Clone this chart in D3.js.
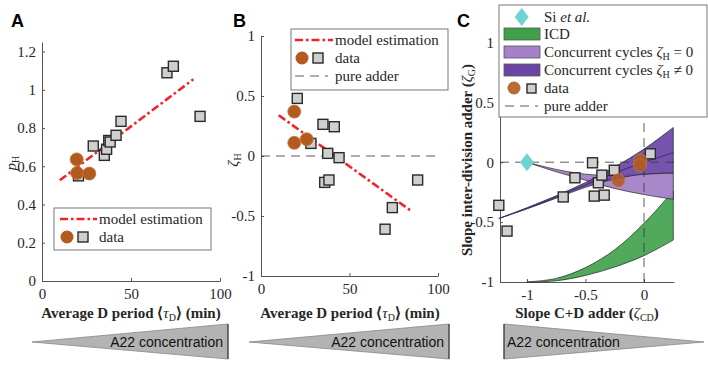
<!DOCTYPE html>
<html>
<head>
<meta charset="utf-8">
<script src="https://cdn.jsdelivr.net/npm/d3@7"></script>
<style>
  body { margin: 0; background: #fff; }
</style>
</head>
<body>
<div id="chart"></div>
<script>
// ---- data ----
// Panel A
const tauA_sq = [20.5, 28.8, 35, 36.3, 37.5, 38.3, 41.6, 44.4, 70.2, 73.8, 88.8];
const pH_sq = [0.55, 0.706, 0.657, 0.689, 0.735, 0.727, 0.762, 0.835, 1.089, 1.123, 0.861];
const tauA_circ = [19.5, 19.7, 26.6];
const pH_circ = [0.636, 0.565, 0.562];
const modelA_x = [10, 85];
const modelA_y = [0.527, 1.055];

// Panel B
const tauB_sq = [20.5, 28.2, 35, 36, 37.7, 38.4, 41.4, 44.1, 70.1, 74.2, 88.5];
const zetaH_sq = [0.48, 0.105, 0.264, -0.22, 0.022, -0.2, 0.244, -0.014, -0.61, -0.43, -0.2];
const tauB_circ = [18.8, 18.8, 25.8];
const zetaH_circ = [0.37, 0.11, 0.14];
const modelB_x = [10, 85];
const modelB_y = [0.34, -0.46];

// Panel C
const zCD_sq = [-1.24, -1.17, -0.69, -0.59, -0.44, -0.425, -0.39, -0.36, -0.34, -0.254, 0.054];
const zG_sq = [-0.36, -0.575, -0.29, -0.13, -0.005, -0.283, -0.172, -0.108, -0.275, -0.067, 0.07];
const zCD_circ = [-0.22, -0.03, -0.035];
const zG_circ = [-0.15, 0.014, -0.025];
const si_x = [-1];
const si_y = [0];

const icd_x = [-1, -0.75, -0.5, -0.25, 0, 0.25];
const icd_top = [-1, -0.97, -0.88, -0.73, -0.51, -0.24];
const icd_bot = [-1, -0.99, -0.945, -0.875, -0.78, -0.65];

const cc0_x = [-1, -0.75, -0.5, -0.25, 0, 0.25];
const cc0_top = [0, -0.06, -0.1, -0.11, -0.1, -0.09];
const cc0_bot = [0, -0.08, -0.15, -0.22, -0.27, -0.31];

const cc1_x = [-1.24, -1, -0.75, -0.5, -0.25, 0, 0.25];
const cc1_top = [-0.47, -0.38, -0.28, -0.17, -0.04, 0.11, 0.29];
const cc1_bot = [-0.47, -0.39, -0.3, -0.21, -0.14, -0.1, -0.09];
const cc1_mid = [-0.47, -0.385, -0.29, -0.19, -0.09, 0.0, 0.08];

const tickA_y = [0, 0.2, 0.4, 0.6, 0.8, 1, 1.2];
const tickAB_x = [0, 50, 100];
const tickB_y = [-1, -0.5, 0, 0.5, 1];
const tickC_x = [-1, -0.5, 0];
const tickC_y = [-1, -0.5, 0, 0.5, 1];

// ---- styles ----
const serif = "Liberation Serif";
const sans = "Liberation Sans";
const red = "#f2222a";
const brown = "#b35a1e";
const sqFill = "#cfcfcf";
const axisCol = "#555";

const svg = d3.select("#chart").append("svg")
    .attr("width", 708)
    .attr("height", 371)
    .style("background", "#fff");

function zip(xs, ys) { return xs.map((x, i) => [x, ys[i]]); }

function panel(o) {
    const x = d3.scaleLinear().domain(o.xd).range(o.xr);
    const y = d3.scaleLinear().domain(o.yd).range(o.yr);
    const g = svg.append("g");

    const fmt = d => String(d);
    const xAxis = d3.axisBottom(x).tickValues(o.xt).tickSizeInner(-3).tickSizeOuter(0).tickPadding(7).tickFormat(fmt);
    const yAxis = d3.axisLeft(y).tickValues(o.yt).tickSizeInner(-3).tickSizeOuter(0).tickPadding(6).tickFormat(fmt);

    const gx = g.append("g").attr("transform", `translate(0,${o.yr[0]})`).call(xAxis);
    const gy = g.append("g").attr("transform", `translate(${o.xr[0]},0)`).call(yAxis);
    [gx, gy].forEach(a => {
        a.attr("font-family", serif).attr("font-size", 15);
        a.select(".domain").attr("stroke", axisCol);
        a.selectAll(".tick line").attr("stroke", axisCol);
        a.selectAll("text").attr("fill", "#262626");
    });
    return { g, x, y };
}

function squares(p, xs, ys) {
    p.g.selectAll(null).data(zip(xs, ys)).enter().append("rect")
        .attr("x", d => p.x(d[0]) - 5).attr("y", d => p.y(d[1]) - 5)
        .attr("width", 10).attr("height", 10)
        .attr("fill", sqFill).attr("stroke", "#2a2a2a").attr("stroke-width", 1.4);
}

function circles(p, xs, ys, op) {
    p.g.selectAll(null).data(zip(xs, ys)).enter().append("circle")
        .attr("cx", d => p.x(d[0])).attr("cy", d => p.y(d[1])).attr("r", 6.5)
        .attr("fill", brown).attr("fill-opacity", op || 1)
        .attr("stroke", "#c8753a").attr("stroke-width", 0.8);
}

function modelLine(p, xs, ys) {
    p.g.append("path").datum(zip(xs, ys))
        .attr("d", d3.line().x(d => p.x(d[0])).y(d => p.y(d[1])))
        .attr("fill", "none").attr("stroke", red).attr("stroke-width", 2.6)
        .attr("stroke-dasharray", "8,3,2.5,3");
}

function hDash(p, yv) {
    p.g.append("line")
        .attr("x1", p.x.range()[0]).attr("x2", p.x.range()[1])
        .attr("y1", p.y(yv)).attr("y2", p.y(yv))
        .attr("stroke", "#333").attr("stroke-width", 0.8).attr("stroke-dasharray", "9,6");
}

function axisLabel(x, y, rot, parts) {
    const t = svg.append("text").attr("x", x).attr("y", y)
        .attr("text-anchor", "middle")
        .attr("transform", rot ? `rotate(-90,${x},${y})` : null)
        .attr("font-family", serif).attr("font-size", 15).attr("font-weight", "bold").attr("fill", "#262626");
    parts.forEach(pt => {
        const s = t.append("tspan").text(pt.t);
        if (pt.i) s.attr("font-style", "italic").attr("font-weight", "normal");
        if (pt.sub) s.attr("font-size", 10).attr("baseline-shift", "-25%").attr("font-weight", "normal");
    });
    return t;
}

function legendText(g, x, y, parts) {
    const t = g.append("text").attr("x", x).attr("y", y).attr("dy", "0.35em")
        .attr("font-family", serif).attr("font-size", 15).attr("fill", "#262626");
    parts.forEach(pt => {
        const s = t.append("tspan").text(pt.t);
        if (pt.i) s.attr("font-style", "italic");
        if (pt.sub) s.attr("font-size", 10).attr("baseline-shift", "-25%");
    });
}

function legendBox(x, y, w, h) {
    return svg.append("rect").attr("x", x).attr("y", y).attr("width", w).attr("height", h)
        .attr("fill", "#fff").attr("stroke", "#555").attr("stroke-width", 0.8);
}

// ---------- Panel A ----------
const A = panel({ xd: [0, 100], xr: [42, 220], yd: [0, 1.25], yr: [281, 42], xt: tickAB_x, yt: tickA_y });
modelLine(A, modelA_x, modelA_y);
squares(A, tauA_sq, pH_sq);
circles(A, tauA_circ, pH_circ);

legendBox(54, 208, 157, 42);
svg.append("line").attr("x1", 60).attr("x2", 97).attr("y1", 219).attr("y2", 219)
    .attr("stroke", red).attr("stroke-width", 2.6).attr("stroke-dasharray", "8,3,2.5,3");
legendText(svg, 99, 219, [{ t: "model estimation" }]);
svg.append("circle").attr("cx", 67).attr("cy", 237).attr("r", 6.5).attr("fill", brown);
svg.append("rect").attr("x", 78).attr("y", 232).attr("width", 10).attr("height", 10)
    .attr("fill", sqFill).attr("stroke", "#2a2a2a").attr("stroke-width", 1.4);
legendText(svg, 99, 237, [{ t: "data" }]);

axisLabel(131, 318, false, [{ t: "Average D period ⟨" }, { t: "τ", i: true }, { t: "D", sub: true }, { t: "⟩ (min)" }]);
axisLabel(16, 163, true, [{ t: "p", i: true }, { t: "H", sub: true }]);

// ---------- Panel B ----------
const B = panel({ xd: [0, 100], xr: [261, 438], yd: [-1, 1], yr: [276, 36], xt: tickAB_x, yt: tickB_y });
hDash(B, 0);
modelLine(B, modelB_x, modelB_y);
squares(B, tauB_sq, zetaH_sq);
circles(B, tauB_circ, zetaH_circ);

legendBox(291, 29, 157, 61);
svg.append("line").attr("x1", 295).attr("x2", 333).attr("y1", 40).attr("y2", 40)
    .attr("stroke", red).attr("stroke-width", 2.6).attr("stroke-dasharray", "8,3,2.5,3");
legendText(svg, 335, 40, [{ t: "model estimation" }]);
svg.append("circle").attr("cx", 302).attr("cy", 58).attr("r", 6.5).attr("fill", brown);
svg.append("rect").attr("x", 313).attr("y", 53).attr("width", 10).attr("height", 10)
    .attr("fill", sqFill).attr("stroke", "#2a2a2a").attr("stroke-width", 1.4);
legendText(svg, 335, 58, [{ t: "data" }]);
svg.append("line").attr("x1", 295).attr("x2", 328).attr("y1", 76).attr("y2", 76)
    .attr("stroke", "#333").attr("stroke-width", 0.8).attr("stroke-dasharray", "9,6");
legendText(svg, 335, 76, [{ t: "pure adder" }]);

axisLabel(350, 318, false, [{ t: "Average D period ⟨" }, { t: "τ", i: true }, { t: "D", sub: true }, { t: "⟩ (min)" }]);
axisLabel(238, 160, true, [{ t: "ζ", i: true }, { t: "H", sub: true }]);

// ---------- Panel C ----------
const C = panel({ xd: [-1.23, 0.256], xr: [500, 674], yd: [-1, 1.02], yr: [282, 40], xt: tickC_x, yt: tickC_y });

function band(p, xs, top, bot, fill, op) {
    const topPts = zip(xs, top).map(d => [p.x(d[0]), p.y(d[1])]);
    const botPts = zip(xs, bot).map(d => [p.x(d[0]), p.y(d[1])]).reverse();
    const path = d3.line().curve(d3.curveCatmullRom)(topPts) + "L" +
        d3.line().curve(d3.curveCatmullRom)(botPts).slice(1) + "Z";
    p.g.append("path").attr("d", path)
        .attr("fill", fill).attr("fill-opacity", op).attr("stroke", "#222").attr("stroke-width", 0.7);
}

band(C, icd_x, icd_top, icd_bot, "#3ea14a", 0.9);
band(C, cc0_x, cc0_top, cc0_bot, "#a481c8", 0.95);
band(C, cc1_x, cc1_top, cc1_bot, "#6a45a6", 0.92);
C.g.append("path").datum(zip(cc1_x, cc1_mid))
    .attr("d", d3.line().x(d => C.x(d[0])).y(d => C.y(d[1])).curve(d3.curveCatmullRom))
    .attr("fill", "none").attr("stroke", "#3a2470").attr("stroke-width", 0.9);

hDash(C, 0);
C.g.append("line").attr("x1", C.x(0)).attr("x2", C.x(0)).attr("y1", C.y.range()[0]).attr("y2", C.y.range()[1])
    .attr("stroke", "#333").attr("stroke-width", 0.8).attr("stroke-dasharray", "9,6");

C.g.selectAll(null).data(zip(si_x, si_y)).enter().append("path")
    .attr("d", d => `M${C.x(d[0])},${C.y(d[1]) - 9}l7,9l-7,9l-7,-9z`)
    .attr("fill", "#6dd3d3");
squares(C, zCD_sq, zG_sq);
circles(C, zCD_circ, zG_circ, 0.85);

legendBox(499, 5, 208, 112);
svg.append("path").attr("d", "M521.7,8l7,9l-7,9l-7,-9z").attr("fill", "#6dd3d3");
legendText(svg, 544, 17, [{ t: "Si " }, { t: "et al.", i: true }]);
svg.append("rect").attr("x", 504).attr("y", 28).attr("width", 36).attr("height", 12)
    .attr("fill", "#3ea14a").attr("stroke", "#555").attr("stroke-width", 0.8);
legendText(svg, 544, 34, [{ t: "ICD" }]);
svg.append("rect").attr("x", 504).attr("y", 46).attr("width", 36).attr("height", 12)
    .attr("fill", "#a481c8").attr("stroke", "#555").attr("stroke-width", 0.8);
legendText(svg, 544, 52, [{ t: "Concurrent cycles " }, { t: "ζ", i: true }, { t: "H", sub: true }, { t: " = 0" }]);
svg.append("rect").attr("x", 504).attr("y", 64).attr("width", 36).attr("height", 12)
    .attr("fill", "#6a45a6").attr("stroke", "#555").attr("stroke-width", 0.8);
legendText(svg, 544, 70, [{ t: "Concurrent cycles " }, { t: "ζ", i: true }, { t: "H", sub: true }, { t: " ≠ 0" }]);
svg.append("circle").attr("cx", 514).attr("cy", 88).attr("r", 6.5).attr("fill", brown).attr("fill-opacity", 0.9);
svg.append("rect").attr("x", 527).attr("y", 84).attr("width", 9).attr("height", 9)
    .attr("fill", sqFill).attr("stroke", "#2a2a2a").attr("stroke-width", 1.4);
legendText(svg, 544, 88, [{ t: "data" }]);
svg.append("line").attr("x1", 505).attr("x2", 538).attr("y1", 106).attr("y2", 106)
    .attr("stroke", "#333").attr("stroke-width", 0.8).attr("stroke-dasharray", "9,6");
legendText(svg, 544, 106, [{ t: "pure adder" }]);

axisLabel(587, 318, false, [{ t: "Slope C+D adder (" }, { t: "ζ", i: true }, { t: "CD", sub: true }, { t: ")" }]);
axisLabel(472, 160, true, [{ t: "Slope inter-division adder (" }, { t: "ζ", i: true }, { t: "G", sub: true }, { t: ")" }]);

// ---------- panel letters ----------
[["A", 11, 27], ["B", 233, 27], ["C", 457, 27]].forEach(d => {
    svg.append("text").attr("x", d[1]).attr("y", d[2]).text(d[0])
        .attr("font-family", sans).attr("font-size", 18).attr("font-weight", "bold").attr("fill", "#000");
});

// ---------- A22 concentration triangles ----------
const tris = [
    { tip: 32, base: 228, tx: 223, anchor: "end" },
    { tip: 249, base: 449, tx: 444, anchor: "end" },
    { tip: 704, base: 504, tx: 507, anchor: "start" }
];
tris.forEach(t => {
    svg.append("path").attr("d", `M${t.tip},342L${t.base},324L${t.base},359Z`)
        .attr("fill", "#b3b3b3").attr("stroke", "#888").attr("stroke-width", 0.8);
    svg.append("line").attr("x1", t.base).attr("x2", t.base).attr("y1", 324).attr("y2", 359)
        .attr("stroke", "#222").attr("stroke-width", 1);
    svg.append("text").attr("x", t.tx).attr("y", 347).attr("text-anchor", t.anchor).text("A22 concentration")
        .attr("font-family", sans).attr("font-size", 14).attr("fill", "#111");
});
</script>
</body>
</html>
